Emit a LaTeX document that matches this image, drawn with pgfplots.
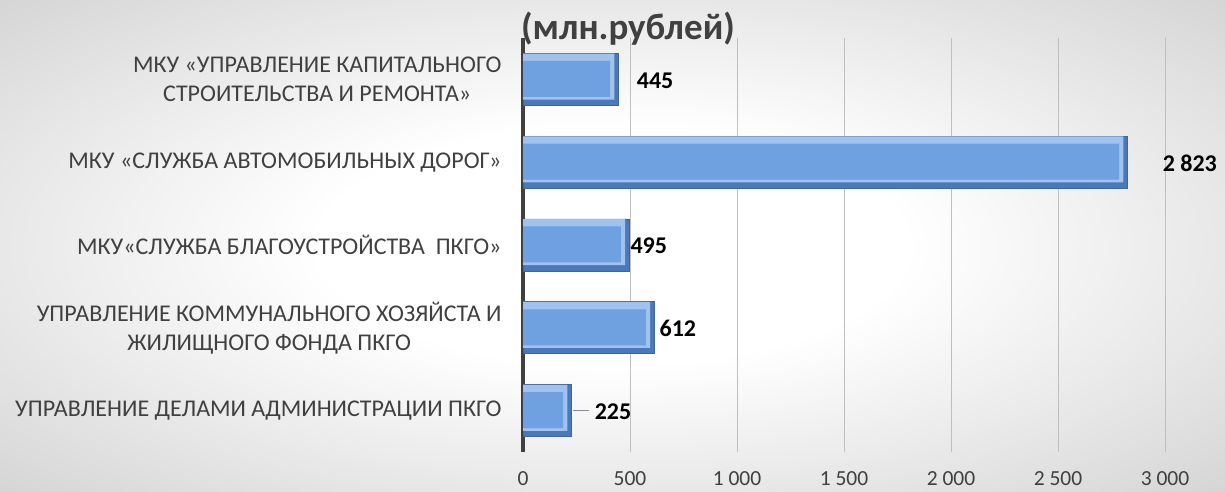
\documentclass[border=0pt]{standalone}
\usepackage{pgfplots}
\usepackage{pgfplotstable}
\pgfplotsset{compat=1.18}
\usepackage{fontspec}
\setmainfont{Carlito}
\definecolor{txt}{HTML}{404040}
\definecolor{barmid}{HTML}{6FA0E0}
\definecolor{bartop}{HTML}{9FC2EE}
\definecolor{barbot}{HTML}{4B78B8}
\definecolor{baredge}{HTML}{3F6498}
\pgfdeclareradialshading{bg}{\pgfpoint{0bp}{0bp}}{color(0bp)=(white); color(12bp)=(white); color(42bp)=(black!21); color(75bp)=(black!26)}
\pgfplotstableread{
y x dx
0 225 20
1 612 2
2 495 -2
3 2823 32
4 445 15
}\datatable
\begin{document}
\begin{tikzpicture}[x=1pt,y=1pt]
\useasboundingbox (0,0) rectangle (1225,492);
\shade[shading=bg] (0,0) rectangle (1225,492);
\begin{axis}[
  at={(523pt,40pt)}, anchor=south west,
  scale only axis, width=642pt, height=414pt,
  xbar, bar width=52pt,
  xmin=0, xmax=3000, ymin=-0.5, ymax=4.5,
  xtick={0,500,...,3000},
  ytick={0,1,2,3,4},
  yticklabels={{УПРАВЛЕНИЕ ДЕЛАМИ АДМИНИСТРАЦИИ ПКГО},
    {УПРАВЛЕНИЕ КОММУНАЛЬНОГО ХОЗЯЙСТА И\\ЖИЛИЩНОГО ФОНДА ПКГО},
    {МКУ«СЛУЖБА БЛАГОУСТРОЙСТВА\ \ ПКГО»},
    {МКУ «СЛУЖБА АВТОМОБИЛЬНЫХ ДОРОГ»},
    {МКУ «УПРАВЛЕНИЕ КАПИТАЛЬНОГО\\СТРОИТЕЛЬСТВА И РЕМОНТА»}},
  yticklabel style={align=center, font=\fontsize{24}{29}\selectfont, text=txt, xshift=-18pt},
  xticklabel style={font=\fontsize{21.5}{26}\selectfont, text=txt, yshift=-16.5pt},
  /pgf/number format/assume math mode=true,
  /pgf/number format/1000 sep={\ },
  major tick length=0pt,
  xmajorgrids, major grid style={draw=black!25, line width=0.9pt},
  axis x line*=bottom, axis y line*=left,
  x axis line style={draw=none},
  y axis line style={draw=black!75, line width=3.5pt},
  clip=false,
]
\addplot[draw=baredge, line width=0.6pt, fill=barbot, bar width=52pt, bar shift=0pt,
  nodes near coords,
  nodes near coords align={horizontal},
  visualization depends on={\thisrow{dx} \as \dx},
  every node near coord/.append style={anchor=west, font=\fontsize{24}{28}\selectfont\bfseries, text=black, xshift=\dx pt, yshift=-1pt}]
  table[x=x, y=y] {\datatable};
\addplot[draw=none, fill=bartop, bar width=46pt, bar shift=2.8pt]
  table[x expr=\thisrow{x}-18, y=y] {\datatable};
\addplot[draw=none, fill=barmid, bar width=36pt, bar shift=0.5pt]
  table[x expr=\thisrow{x}-38, y=y] {\datatable};
\draw[black!45, line width=0.9pt] (axis cs:234,0) -- (axis cs:309,0);
\end{axis}
\node[anchor=base, font=\fontsize{37}{44}\selectfont\bfseries, text=txt] at (628,452) {(млн.рублей)};
\end{tikzpicture}
\end{document}
